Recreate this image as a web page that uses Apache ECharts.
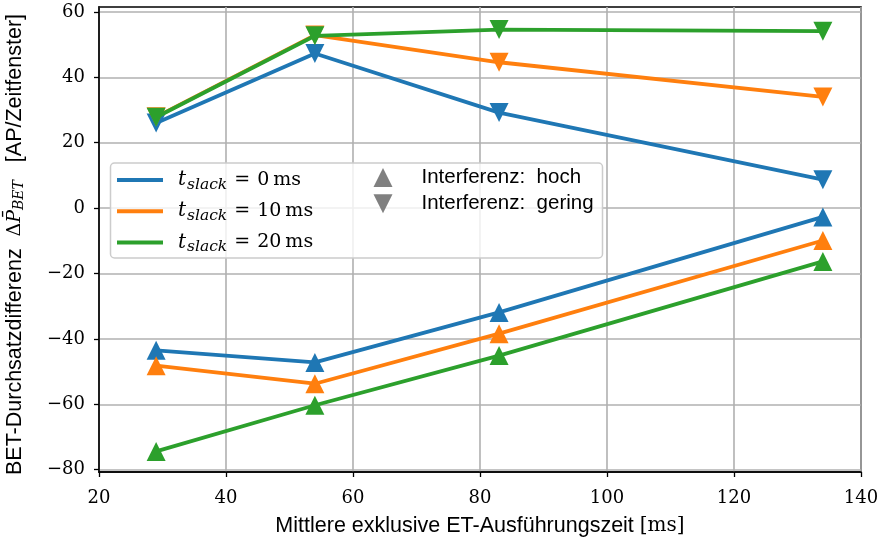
<!DOCTYPE html>
<html>
<head>
<meta charset="utf-8">
<script src="https://cdn.jsdelivr.net/npm/echarts@6/dist/echarts.min.js"></script>
<style>
  html, body { margin: 0; padding: 0; background: #fff; }
  #chart { width: 881px; height: 545px; }
</style>
</head>
<body>
<div id="chart"></div>
<script>
// Mean exclusive ET execution time [ms]
const xValues = [29, 54, 83, 134];

// Throughput difference, low interference (down triangles)
const geringT0 = [26.0, 47.3, 29.2, 8.7];
const geringT10 = [27.9, 52.9, 44.6, 34.0];
const geringT20 = [27.8, 52.7, 54.6, 54.1];

// Throughput difference, high interference (up triangles)
const hochT0 = [-43.5, -47.2, -31.9, -2.7];
const hochT10 = [-48.2, -53.7, -38.4, -9.9];
const hochT20 = [-74.4, -60.3, -45.1, -16.3];

const xTicks = [20, 40, 60, 80, 100, 120, 140];
const yTicks = [-80, -60, -40, -20, 0, 20, 40, 60];

const slackLabels = ['0', '10', '20'];
const colors = ['#1f77b4', '#ff7f0e', '#2ca02c'];
const markerGray = '#808080';

const SERIF = '"DejaVu Serif", "Liberation Serif", serif';
const SANS = '"Liberation Sans", "DejaVu Sans", sans-serif';
const DOWN = 'path://M0,0 L2,0 L1,2 Z';

function pairs(ys) { return xValues.map((x, i) => [x, ys[i]]); }
function minus(v) { return String(v).replace('-', '\u2212'); }

const groups = [
  { down: geringT0, up: hochT0 },
  { down: geringT10, up: hochT10 },
  { down: geringT20, up: hochT20 }
];

const series = [];
groups.forEach((g, i) => {
  const base = {
    type: 'line',
    color: colors[i],
    lineStyle: { width: 3.8, join: 'round' },
    symbolSize: 19,
    showSymbol: true,
    animation: false,
    z: 3 + i,
    emphasis: { disabled: true }
  };
  series.push(Object.assign({}, base, { name: 'up' + i, symbol: 'triangle', data: pairs(g.up) }));
  series.push(Object.assign({}, base, { name: 'down' + i, symbol: DOWN, symbolKeepAspect: true, data: pairs(g.down) }));
});

// entries used only by the legend
const legendSlack = slackLabels.map(s => 'slack' + s);
slackLabels.forEach((s, i) => {
  series.push({ type: 'line', name: 'slack' + s, color: colors[i], data: [] });
});
series.push({ type: 'line', name: 'hoch', color: markerGray, data: [] });
series.push({ type: 'line', name: 'gering', color: markerGray, data: [] });

const mathRich = {
  sp: { width: 10 },
  g1: { width: 7 },
  g2: { width: 4 },
  t: { fontFamily: SERIF, fontStyle: 'italic', fontSize: 20, lineHeight: 24, color: '#000' },
  s: { fontFamily: SERIF, fontStyle: 'italic', fontSize: 15.5, lineHeight: 24, padding: [10, 0, 0, 1], color: '#000' },
  e: { fontFamily: SERIF, fontSize: 19, lineHeight: 24, color: '#000' }
};

const option = {
  backgroundColor: '#ffffff',
  animation: false,
  grid: {
    left: 99, right: 20, top: 7, bottom: 73,
    show: true, borderColor: '#000', borderWidth: 1.6,
    containLabel: false, outerBoundsMode: 'none'
  },
  xAxis: {
    type: 'value',
    min: 20, max: 140, interval: 20,
    name: '{a|Mittlere exklusive ET-Ausführungszeit }{b|[ms]}',
    nameLocation: 'middle',
    nameGap: 43,
    nameTextStyle: {
      rich: {
        a: { fontFamily: SANS, fontSize: 21.5, color: '#000' },
        b: { fontFamily: SERIF, fontSize: 20, color: '#000' }
      }
    },
    axisLine: { show: true, onZero: false, lineStyle: { color: '#000', width: 1.6 } },
    axisTick: { show: true, inside: false, length: 5, lineStyle: { color: '#000', width: 1.3 } },
    axisLabel: {
      margin: 17, fontFamily: SERIF, fontSize: 18, color: '#000',
      customValues: xTicks, formatter: minus
    },
    splitLine: { show: true, lineStyle: { color: '#b0b0b0', width: 1.6 } }
  },
  yAxis: {
    type: 'value',
    min: -80.7, max: 61.5,
    name: '{a|BET-Durchsatzdifferenz  }{d|\u0394}{p|P\u0304}{sub|BET}{a|   [AP/Zeitfenster]}',
    nameLocation: 'middle',
    nameRotate: 90,
    nameGap: 71,
    nameTextStyle: {
      padding: [0, 10, 0, 0],
      rich: {
        a: { fontFamily: SANS, fontSize: 21.5, lineHeight: 26, color: '#000' },
        d: { fontFamily: SERIF, fontSize: 19, lineHeight: 26, color: '#000' },
        p: { fontFamily: SERIF, fontStyle: 'italic', fontSize: 19, lineHeight: 26, color: '#000' },
        sub: { fontFamily: SERIF, fontStyle: 'italic', fontSize: 14, lineHeight: 26, padding: [9, 0, 0, 0], color: '#000' }
      }
    },
    axisLine: { show: true, onZero: false, lineStyle: { color: '#000', width: 1.6 } },
    axisTick: { show: true, inside: false, length: 5, customValues: yTicks, lineStyle: { color: '#000', width: 1.3 } },
    axisLabel: {
      margin: 14, fontFamily: SERIF, fontSize: 18, color: '#000',
      customValues: yTicks, formatter: minus
    },
    splitLine: { show: true, lineStyle: { color: '#b0b0b0', width: 1.6 } }
  },
  graphic: [{
    type: 'rect',
    z: 20,
    shape: { x: 110.5, y: 163, width: 492, height: 95, r: 4 },
    style: { fill: 'rgba(255,255,255,0.8)', stroke: '#cccccc', lineWidth: 1.5 }
  }],
  legend: [
    {
      z: 30,
      left: 117, top: 167,
      orient: 'vertical',
      padding: 0,
      itemGap: 5.2,
      itemWidth: 46, itemHeight: 4,
      icon: 'rect',
      itemStyle: { borderWidth: 0 },
      selectedMode: false,
      data: legendSlack.map(n => ({ name: n, icon: 'rect' })),
      formatter: function (name) {
        return '{sp|}{t|t}{s|slack}{g1|}{e|=}{g1|}{e|' + name.replace('slack', '') + '}{g2|}{e|ms}';
      },
      textStyle: { rich: mathRich }
    },
    {
      z: 30,
      left: 373.5, top: 167,
      orient: 'vertical',
      padding: 0,
      itemGap: 5.2,
      itemWidth: 19, itemHeight: 19,
      itemStyle: { borderWidth: 0 },
      selectedMode: false,
      data: [
        { name: 'hoch', icon: 'triangle' },
        { name: 'gering', icon: DOWN }
      ],
      formatter: function (name) {
        return '{sp|}{a|Interferenz:  ' + name + '}';
      },
      textStyle: {
        rich: {
          sp: { width: 24 },
          a: { fontFamily: SANS, fontSize: 20.5, lineHeight: 24, color: '#000' }
        }
      }
    }
  ],
  series: series
};

const chart = echarts.init(document.getElementById('chart'), null, { renderer: 'canvas' });
chart.setOption(option);
</script>
</body>
</html>
